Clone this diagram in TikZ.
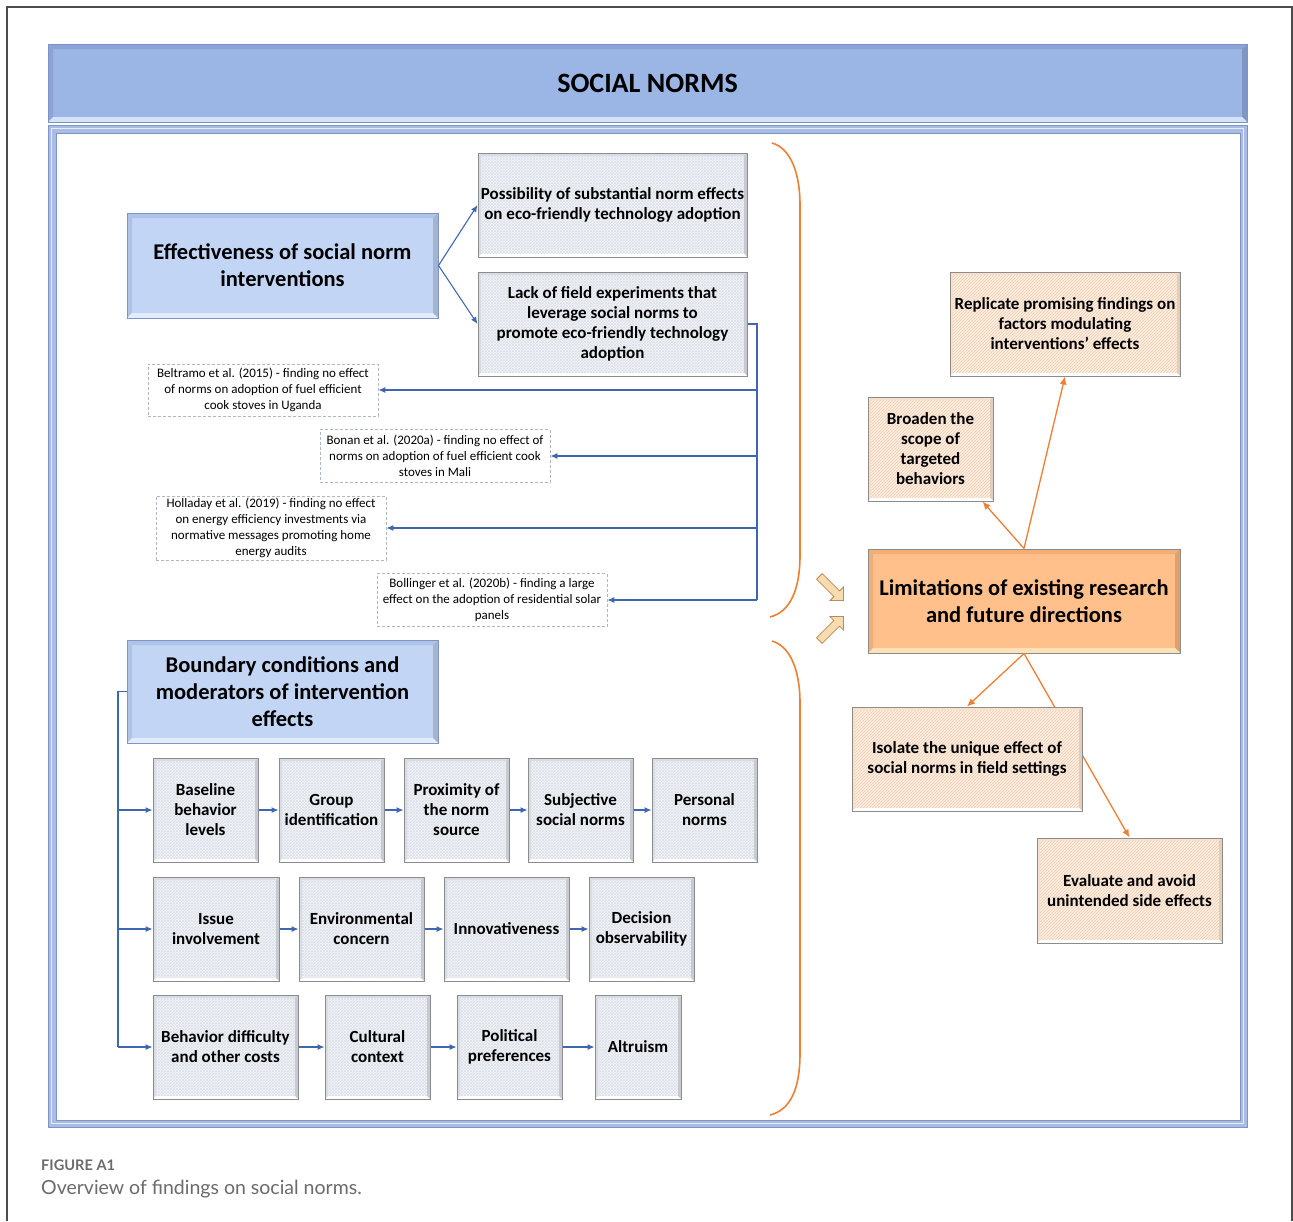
\documentclass[tikz,border=0pt]{standalone}
\usepackage{fontspec}
\setmainfont{Carlito}
\newfontfamily\capfont{Lato}
\usetikzlibrary{arrows.meta,patterns,shapes.arrows}

\definecolor{bandblue}{HTML}{9BB5E5}
\definecolor{banddark}{HTML}{8BA3D6}
\definecolor{bandlight}{HTML}{D3E3FB}
\definecolor{boxblue}{HTML}{C3D5F4}
\definecolor{boxdark}{HTML}{AFC3E8}
\definecolor{boxlight}{HTML}{E2ECFC}
\definecolor{framecol}{HTML}{A8BCE4}
\definecolor{framedark}{HTML}{7E94C4}
\definecolor{lineblue}{HTML}{3F66AE}
\definecolor{grayfill}{HTML}{F3F5F9}
\definecolor{grayhatch}{HTML}{DCE0E8}
\definecolor{graydark}{HTML}{D8DCE3}
\definecolor{orfill}{HTML}{FFC08C}
\definecolor{ordark}{HTML}{F2AE74}
\definecolor{orlight}{HTML}{FFE2B8}
\definecolor{peach}{HTML}{FDEFE4}
\definecolor{peachhatch}{HTML}{F0CBAA}
\definecolor{orline}{HTML}{EE7F33}
\definecolor{dashcol}{HTML}{AAB6CB}
\definecolor{capgray}{HTML}{6B6B6B}
\definecolor{edgegray}{HTML}{8C8C8C}
\definecolor{chevfill}{HTML}{F6DCB0}
\definecolor{chevline}{HTML}{BF8A57}

\tikzset{
  bevel/.style n args={3}{path picture={
    \fill[#1] (path picture bounding box.north west) -- (path picture bounding box.north east)
      -- ([shift={(-#3,-#3)}]path picture bounding box.north east)
      -- ([shift={(#3,-#3)}]path picture bounding box.north west) -- cycle;
    \fill[#1] (path picture bounding box.north west) -- ([shift={(#3,-#3)}]path picture bounding box.north west)
      -- ([shift={(#3,#3)}]path picture bounding box.south west) -- (path picture bounding box.south west) -- cycle;
    \fill[#1!92!black] (path picture bounding box.north east) -- ([shift={(-#3,-#3)}]path picture bounding box.north east)
      -- ([shift={(-#3,#3)}]path picture bounding box.south east) -- (path picture bounding box.south east) -- cycle;
    \fill[#2] (path picture bounding box.south west) -- (path picture bounding box.south east)
      -- ([shift={(-#3,#3)}]path picture bounding box.south east)
      -- ([shift={(#3,#3)}]path picture bounding box.south west) -- cycle;
  }},
  banner/.style={fill=bandblue, draw=framedark, line width=1pt, bevel={banddark}{bandlight}{5pt},
    font=\bfseries\fontsize{28}{32}\selectfont, inner sep=0pt},
  bluebox/.style={fill=boxblue, draw=framedark, line width=1pt, bevel={boxdark}{boxlight}{5pt},
    font=\bfseries\fontsize{22.5}{27}\selectfont, align=center, inner sep=0pt},
  graybox/.style={preaction={fill=grayfill}, pattern=crosshatch, pattern color=grayhatch,
    draw=edgegray, line width=1pt, bevel={graydark}{white}{3pt},
    font=\bfseries\fontsize{17}{20}\selectfont, align=center, inner sep=0pt},
  peachbox/.style={preaction={fill=peach}, pattern=north east lines, pattern color=peachhatch,
    draw=edgegray, line width=1pt, bevel={peachhatch!60!white}{white}{3pt},
    font=\bfseries\fontsize{17}{20}\selectfont, align=center, inner sep=0pt},
  orbox/.style={fill=orfill, draw=edgegray, line width=1pt, bevel={ordark}{orlight}{5pt},
    font=\bfseries\fontsize{22.5}{26.5}\selectfont, align=center, inner sep=0pt},
  dbox/.style={draw=dashcol, dash pattern=on 3pt off 2pt, line width=0.8pt, fill=white,
    font=\fontsize{13}{16}\selectfont, align=center, inner sep=0pt},
  bl/.style={draw=lineblue, line width=1.1pt},
  bla/.style={bl, -{Latex[length=7pt,width=6pt]}},
  ora/.style={draw=orline, line width=1.3pt, -{Latex[length=8pt,width=7pt]}},
  brace/.style={draw=orline, line width=1.6pt},
  chev/.style={single arrow, draw=chevline, fill=chevfill, minimum height=34pt, minimum width=19pt,
    single arrow head extend=4pt, inner sep=2.5pt, line width=0.8pt},
}

\begin{document}
\begin{tikzpicture}[x=1pt,y=-1pt]
\useasboundingbox (0,0) rectangle (1293,1221);
\fill[white] (0,0) rectangle (1293,1221);
% outer page frame
\draw[black!70, line width=1.5pt] (7,1221) -- (7,7) -- (1292,7) -- (1292,1221);

% title
\node[banner, minimum width=1199pt, minimum height=78pt] (title) at (647.5,83) {SOCIAL NORMS};

% main frame
\fill[framecol] (48,125) rectangle (1247,1127);
\draw[framedark, line width=1pt] (48,125) rectangle (1247,1127);
\draw[boxlight, line width=1.2pt] (51.5,128.5) rectangle (1243.5,1123.5);
\fill[white] (56,133) rectangle (1240,1120);
\draw[framedark, line width=0.8pt] (56,133) rectangle (1240,1120);

% upper-left block
\node[bluebox, minimum width=311pt, minimum height=105pt] (eff) at (282.5,265.5)
  {Effectiveness of social norm\\interventions};
\node[graybox, minimum width=269pt, minimum height=104pt] (poss) at (612.5,205)
  {Possibility of substantial norm effects\\on eco-friendly technology adoption};
\node[graybox, minimum width=269pt, minimum height=104pt] (lack) at (612.5,324)
  {Lack of field experiments that\\leverage social norms to\\promote eco-friendly technology\\adoption};

\node[dbox, minimum width=230pt, minimum height=52pt] (belt) at (263,390)
  {Beltramo et al. (2015) - finding no effect\\of norms on adoption of fuel efficient\\cook stoves in Uganda};
\node[dbox, minimum width=230pt, minimum height=53pt] (bonan) at (435,456)
  {Bonan et al. (2020a) - finding no effect of\\norms on adoption of fuel efficient cook\\stoves in Mali};
\node[dbox, minimum width=230pt, minimum height=64pt] (holl) at (271,528)
  {Holladay et al. (2019) - finding no effect\\on energy efficiency investments via\\normative messages promoting home\\energy audits};
\node[dbox, minimum width=230pt, minimum height=53pt] (boll) at (492,600)
  {Bollinger et al. (2020b) - finding a large\\effect on the adoption of residential solar\\panels};

\draw[bla] (eff.east) -- (poss.west);
\draw[bla] (eff.east) -- (lack.west);
\coordinate (j1) at (757,390);
\coordinate (j2) at (757,456);
\coordinate (j3) at (757,528);
\coordinate (j4) at (757,600);
\draw[bl] (lack.east) -| (j4);
\draw[bla] (j1) -- (belt.east);
\draw[bla] (j2) -- (bonan.east);
\draw[bla] (j3) -- (holl.east);
\draw[bla] (j4) -- (boll.east);

% lower-left block
\node[bluebox, minimum width=311pt, minimum height=103pt] (bound) at (282.5,691.5)
  {Boundary conditions and\\moderators of intervention\\effects};

\node[graybox, minimum width=105pt, minimum height=104pt] (base) at (205.5,810) {Baseline\\behavior\\levels};
\node[graybox, minimum width=105pt, minimum height=104pt] (group) at (331.5,810) {Group\\identification};
\node[graybox, minimum width=105pt, minimum height=104pt] (prox) at (456.5,810) {Proximity of\\the norm\\source};
\node[graybox, minimum width=105pt, minimum height=104pt] (subj) at (580.5,810) {Subjective\\social norms};
\node[graybox, minimum width=105pt, minimum height=104pt] (pers) at (704.5,810) {Personal\\norms};

\node[graybox, minimum width=126pt, minimum height=104pt] (issue) at (216,929) {Issue\\involvement};
\node[graybox, minimum width=125pt, minimum height=104pt] (env) at (361.5,929) {Environmental\\concern};
\node[graybox, minimum width=125pt, minimum height=104pt] (innov) at (506.5,929) {Innovativeness};
\node[graybox, minimum width=105pt, minimum height=104pt] (dec) at (641.5,929) {Decision\\observability};

\node[graybox, minimum width=145pt, minimum height=104pt] (beh) at (225.5,1047) {Behavior difficulty\\and other costs};
\node[graybox, minimum width=105pt, minimum height=104pt] (cult) at (377.5,1047) {Cultural\\context};
\node[graybox, minimum width=105pt, minimum height=104pt] (pol) at (509.5,1047) {Political\\preferences};
\node[graybox, minimum width=86pt, minimum height=104pt] (alt) at (638,1047) {Altruism};

\coordinate (k0) at (118,691.5);
\coordinate (k1) at (118,810);
\coordinate (k2) at (118,929);
\coordinate (k3) at (118,1047);
\draw[bl] (bound.west) -- (k0) -- (k3);
\draw[bla] (k1) -- (base.west);
\draw[bla] (k2) -- (issue.west);
\draw[bla] (k3) -- (beh.west);
\draw[bla] (base) -- (group);
\draw[bla] (group) -- (prox);
\draw[bla] (prox) -- (subj);
\draw[bla] (subj) -- (pers);
\draw[bla] (issue) -- (env);
\draw[bla] (env) -- (innov);
\draw[bla] (innov) -- (dec);
\draw[bla] (beh) -- (cult);
\draw[bla] (cult) -- (pol);
\draw[bla] (pol) -- (alt);

% braces
\draw[brace] (772,143) .. controls (790,148) and (800,172) .. (800,205) -- (800,555)
  .. controls (800,590) and (790,612) .. (770,617);
\draw[brace] (772,641) .. controls (790,646) and (800,670) .. (800,703) -- (800,1053)
  .. controls (800,1090) and (790,1110) .. (770,1115);

% chevron arrows
\node[chev, rotate=-45] (ch1) at (830,587) {};
\node[chev, rotate=45] (ch2) at (830,630) {};

% right block
\node[orbox, minimum width=312pt, minimum height=104pt] (lim) at (1024,601)
  {Limitations of existing research\\and future directions};
\node[peachbox, minimum width=230pt, minimum height=104pt] (rep) at (1065,324)
  {Replicate promising findings on\\factors modulating\\interventions’ effects};
\node[peachbox, minimum width=125pt, minimum height=104pt] (broad) at (930.5,449)
  {Broaden the\\scope of\\targeted\\behaviors};
\node[peachbox, minimum width=185pt, minimum height=105pt] (eval) at (1129.5,890.5)
  {Evaluate and avoid\\unintended side effects};
\draw[ora] (lim.south) -- (eval.north);
\node[peachbox, minimum width=230pt, minimum height=104pt] (iso) at (967,759)
  {Isolate the unique effect of\\social norms in field settings};
\draw[ora] (lim.north) -- ([xshift=-11pt]broad.south east);
\draw[ora] (lim.north) -- (rep.south);
\draw[ora] (lim.south) -- (iso.north);

% caption
\node[anchor=base west, inner sep=0pt, text=capgray, font=\capfont\bfseries\fontsize{14.6}{16}\selectfont]
  (figlab) at (41,1170) {FIGURE A1};
\node[anchor=base west, inner sep=0pt, text=capgray, font=\capfont\fontsize{19.5}{22}\selectfont]
  (figcap) at (41,1194) {Overview of findings on social norms.};
\end{tikzpicture}
\end{document}
